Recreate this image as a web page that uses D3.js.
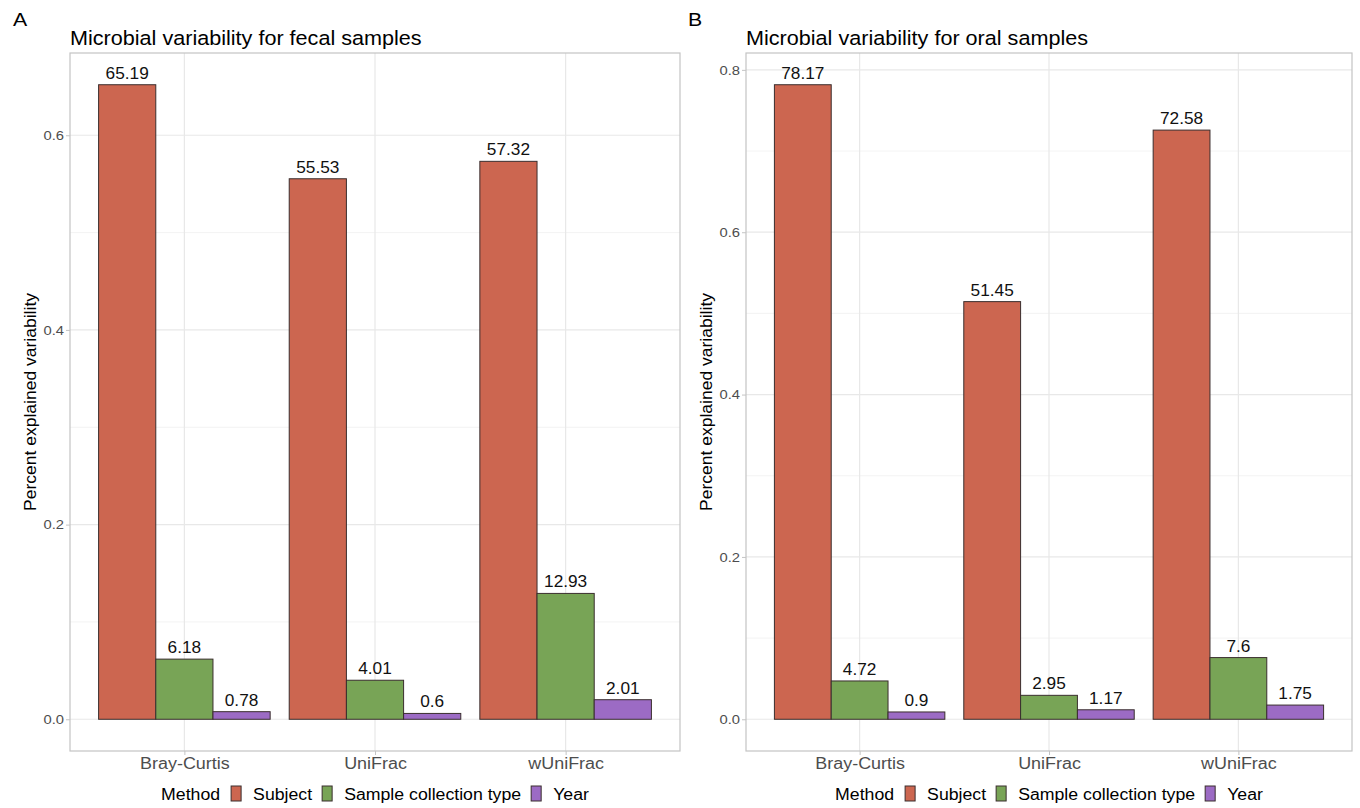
<!DOCTYPE html>
<html>
<head>
<meta charset="utf-8">
<script src="https://cdn.jsdelivr.net/npm/d3@7"></script>
<style>
  body { margin: 0; background: #fff; }
  svg text { font-family: "Liberation Sans", Arial, sans-serif; }
</style>
</head>
<body>
<div class="chart"></div>
<script>
// categories and groups
var methods = ["Bray-Curtis", "UniFrac", "wUniFrac"];
var factors = ["Subject", "Sample collection type", "Year"];
var factorColors = ["#CC6650", "#78A456", "#9C6BC4"];

// percent explained (labels); bar height = value / 100
var fecalSubject = [65.19, 55.53, 57.32];
var fecalSample = [6.18, 4.01, 12.93];
var fecalYear = [0.78, 0.6, 2.01];

var oralSubject = [78.17, 51.45, 72.58];
var oralSample = [4.72, 2.95, 7.6];
var oralYear = [0.9, 1.17, 1.75];

var fecalTicks = [0.0, 0.2, 0.4, 0.6];
var oralTicks = [0.0, 0.2, 0.4, 0.6, 0.8];

// the reference text is a bit wider than Liberation Sans
var SX = 1.12;

var svg = d3.select(".chart").append("svg")
  .attr("width", 1360)
  .attr("height", 808);

// stretch text horizontally to match glyph widths
function widen(sel, k) {
  sel.each(function() {
    var n = this.getComputedTextLength();
    d3.select(this).attr("textLength", n * (k || SX)).attr("lengthAdjust", "spacingAndGlyphs");
  });
}

function drawPanel(opts) {
  var series = opts.series;
  var rows = [];
  methods.forEach(function(m, i) {
    factors.forEach(function(f, j) {
      rows.push({ method: m, factor: f, value: series[j][i] });
    });
  });

  var maxV = d3.max(rows, d => d.value / 100);
  var pad = maxV * 0.05;

  var y = d3.scaleLinear()
    .domain([-pad, maxV + pad])
    .range([opts.bottom, opts.top]);

  // ggplot-style discrete axis: 0.6 units of expansion each side
  var unit = (opts.right - opts.left) / (methods.length - 1 + 1.2);
  var xCenter = d3.scalePoint()
    .domain(methods)
    .range([opts.left + 0.6 * unit, opts.right - 0.6 * unit]);
  var x1 = d3.scaleBand()
    .domain(factors)
    .range([-0.45 * unit, 0.45 * unit])
    .padding(0);

  var g = svg.append("g");

  // panel tag and title
  g.append("text")
    .attr("x", opts.tagX).attr("y", 26)
    .attr("font-size", 19).attr("fill", "#000")
    .text(opts.tag).call(widen);
  g.append("text")
    .attr("x", opts.left).attr("y", 45)
    .attr("font-size", 19.3).attr("fill", "#000")
    .text(opts.title).call(widen);

  // minor grid
  var step = opts.ticks[1] - opts.ticks[0];
  var minor = [];
  for (var k = 0; k < opts.ticks.length + 1; k++) {
    var v = opts.ticks[0] + step * (k - 0.5);
    if (v > y.domain()[0] && v < y.domain()[1]) minor.push(v);
  }
  g.selectAll(".minor").data(minor).enter().append("line")
    .attr("x1", opts.left).attr("x2", opts.right)
    .attr("y1", d => y(d)).attr("y2", d => y(d))
    .attr("stroke", "#F0F0F0").attr("stroke-width", 0.8);

  // major grid
  g.selectAll(".hgrid").data(opts.ticks).enter().append("line")
    .attr("x1", opts.left).attr("x2", opts.right)
    .attr("y1", d => y(d)).attr("y2", d => y(d))
    .attr("stroke", "#E8E8E8").attr("stroke-width", 1.2);
  g.selectAll(".vgrid").data(methods).enter().append("line")
    .attr("x1", d => xCenter(d)).attr("x2", d => xCenter(d))
    .attr("y1", opts.top).attr("y2", opts.bottom)
    .attr("stroke", "#E8E8E8").attr("stroke-width", 1.2);

  // bars
  var groups = g.selectAll(".grp").data(methods).enter().append("g")
    .attr("transform", d => `translate(${xCenter(d)},0)`);

  groups.selectAll("rect")
    .data(m => rows.filter(r => r.method == m))
    .enter().append("rect")
    .attr("x", d => x1(d.factor))
    .attr("width", x1.bandwidth())
    .attr("y", d => y(d.value / 100))
    .attr("height", d => y(0) - y(d.value / 100))
    .attr("fill", d => factorColors[factors.indexOf(d.factor)])
    .attr("stroke", "#3A2E2E")
    .attr("stroke-width", 1);

  groups.selectAll(".lbl")
    .data(m => rows.filter(r => r.method == m))
    .enter().append("text")
    .attr("x", d => x1(d.factor) + x1.bandwidth() / 2)
    .attr("y", d => y(d.value / 100) - 6)
    .attr("text-anchor", "middle")
    .attr("font-size", 16.3).attr("fill", "#111")
    .text(d => d.value)
    .call(widen, 1.06);

  // panel border
  g.append("rect")
    .attr("x", opts.left).attr("y", opts.top)
    .attr("width", opts.right - opts.left)
    .attr("height", opts.bottom - opts.top)
    .attr("fill", "none").attr("stroke", "#C4C4C4").attr("stroke-width", 1.2);

  // axes
  var yAxis = d3.axisLeft(y).tickValues(opts.ticks).tickSize(4).tickPadding(2)
    .tickFormat(d3.format(".1f"));
  var ya = g.append("g").attr("transform", `translate(${opts.left},0)`).call(yAxis);
  ya.select(".domain").remove();
  ya.selectAll("line").attr("stroke", "#C4C4C4");
  ya.selectAll("text").attr("fill", "#4D4D4D").attr("font-size", 13.2)
    .style("font-family", '"Liberation Sans", Arial, sans-serif')
    .call(widen);

  var xAxis = d3.axisBottom(xCenter).tickSize(4).tickPadding(3);
  var xa = g.append("g").attr("transform", `translate(0,${opts.bottom})`).call(xAxis);
  xa.select(".domain").remove();
  xa.selectAll("line").attr("stroke", "#C4C4C4");
  xa.selectAll("text").attr("fill", "#4D4D4D").attr("font-size", 16)
    .style("font-family", '"Liberation Sans", Arial, sans-serif')
    .call(widen);

  // y axis title
  g.append("text")
    .attr("transform", `translate(${opts.left - 34},${(opts.top + opts.bottom) / 2}) rotate(-90)`)
    .attr("text-anchor", "middle")
    .attr("font-size", 17).attr("fill", "#000")
    .text("Percent explained variability")
    .call(widen, 1.03);

  // legend (measure natural widths before stretching)
  var leg = g.append("g");
  var lx = 0;
  var lt = leg.append("text").attr("x", lx).attr("y", 0)
    .attr("font-size", 15.8).attr("fill", "#000").text("Method");
  var w = lt.node().getComputedTextLength() * SX;
  lt.call(widen);
  lx += w + 11;
  factors.forEach(function(f, j) {
    leg.append("rect")
      .attr("x", lx).attr("y", -14)
      .attr("width", 10).attr("height", 15)
      .attr("fill", factorColors[j]).attr("stroke", "#3A2E2E").attr("stroke-width", 1);
    lx += 10 + 12;
    var t = leg.append("text").attr("x", lx).attr("y", 0)
      .attr("font-size", 15.8).attr("fill", "#000").text(f);
    var tw = t.node().getComputedTextLength() * SX;
    t.call(widen);
    lx += tw + 10;
  });
  lx -= 10;
  leg.attr("transform", `translate(${(opts.left + opts.right) / 2 - lx / 2},800)`);
}

drawPanel({
  tag: "A", tagX: 13,
  title: "Microbial variability for fecal samples",
  left: 70, right: 680, top: 53, bottom: 751,
  ticks: fecalTicks,
  series: [fecalSubject, fecalSample, fecalYear]
});

drawPanel({
  tag: "B", tagX: 688,
  title: "Microbial variability for oral samples",
  left: 746, right: 1352, top: 53, bottom: 751,
  ticks: oralTicks,
  series: [oralSubject, oralSample, oralYear]
});
</script>
</body>
</html>
